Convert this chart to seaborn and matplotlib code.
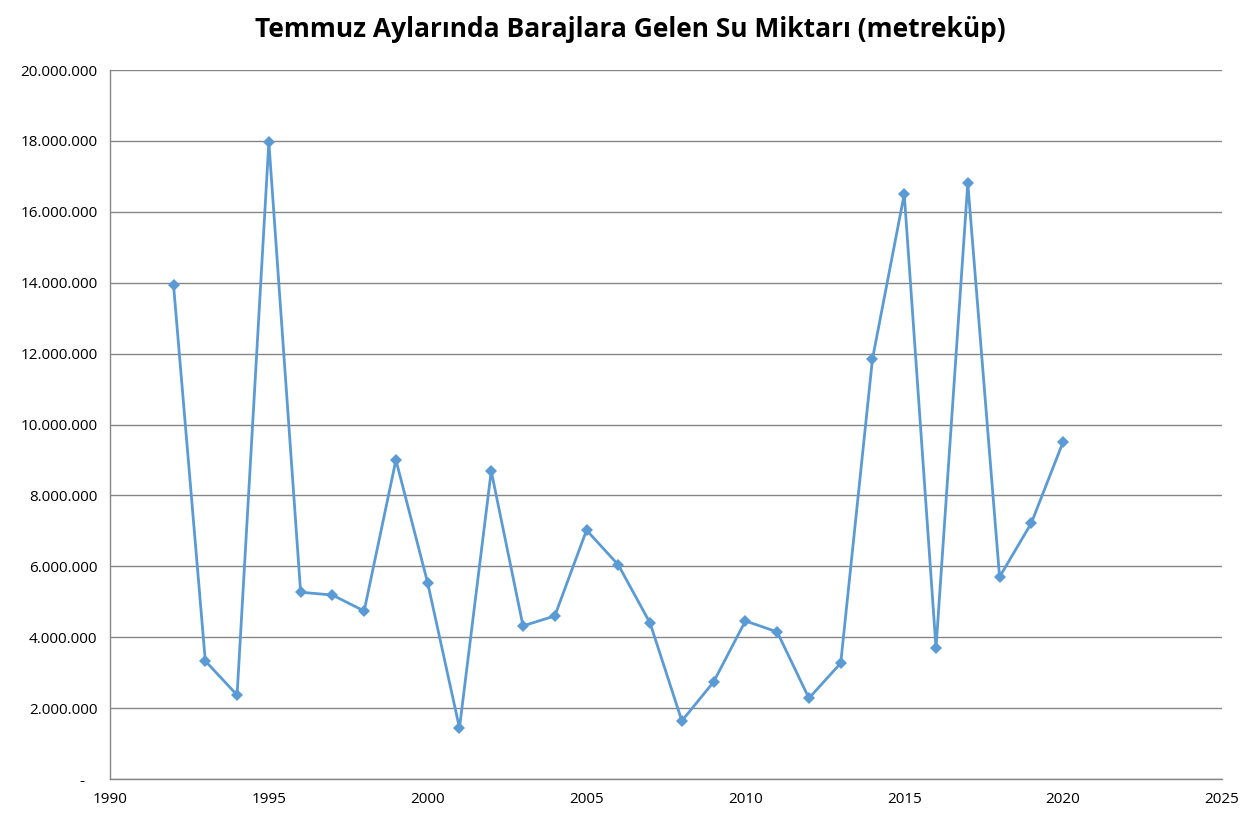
import pandas as pd
import matplotlib
matplotlib.use("Agg")
import matplotlib.pyplot as plt
import matplotlib.ticker as mticker
import seaborn as sns

# Temmuz aylarinda barajlara gelen su (metrekup)
years = list(range(1992, 2021))
water = [13930000, 3330000, 2370000, 17970000, 5270000, 5190000, 4740000,
         9000000, 5530000, 1440000, 8690000, 4320000, 4600000, 7020000,
         6040000, 4400000, 1640000, 2740000, 4460000, 4150000, 2280000,
         3270000, 11850000, 16500000, 3700000, 16810000, 5700000, 7220000,
         9510000]

data = pd.DataFrame({"Yil": years, "Su": water})

sns.set_style("white")
plt.rcParams['font.family'] = ['Open Sans', 'DejaVu Sans']

fig = plt.figure(figsize=(12.6, 8.19), dpi=100)
ax = fig.add_axes([0.0873, 0.0488, 0.8825, 0.8657])

sns.lineplot(data=data, x="Yil", y="Su", ax=ax, color="#5B9BD5",
             linewidth=2, marker="D", markersize=6, markeredgewidth=0)

ax.set_xlim(1990, 2025)
ax.set_ylim(0, 20000000)
ax.set_xticks(range(1990, 2026, 5))
ax.set_yticks(range(0, 20000001, 2000000))


def tr_fmt(v, pos):
    if v == 0:
        return "-   "
    return f"{int(v):,}".replace(",", ".")


ax.yaxis.set_major_formatter(mticker.FuncFormatter(tr_fmt))
ax.grid(axis="y", color="#868686", linewidth=1)
ax.set_axisbelow(True)
for s in ["top", "right"]:
    ax.spines[s].set_visible(False)
for s in ["left", "bottom"]:
    ax.spines[s].set_color("#868686")
    ax.spines[s].set_linewidth(1)
ax.tick_params(axis="both", which="major", direction="out", length=5,
               color="#868686", labelsize=11, labelcolor="black", pad=4)
ax.set_xlabel("")
ax.set_ylabel("")

fig.suptitle("Temmuz Aylarında Barajlara Gelen Su Miktarı (metreküp)",
             fontsize=19, fontweight="bold", color="black", y=0.98)

fig.savefig("out.png", dpi=100)
